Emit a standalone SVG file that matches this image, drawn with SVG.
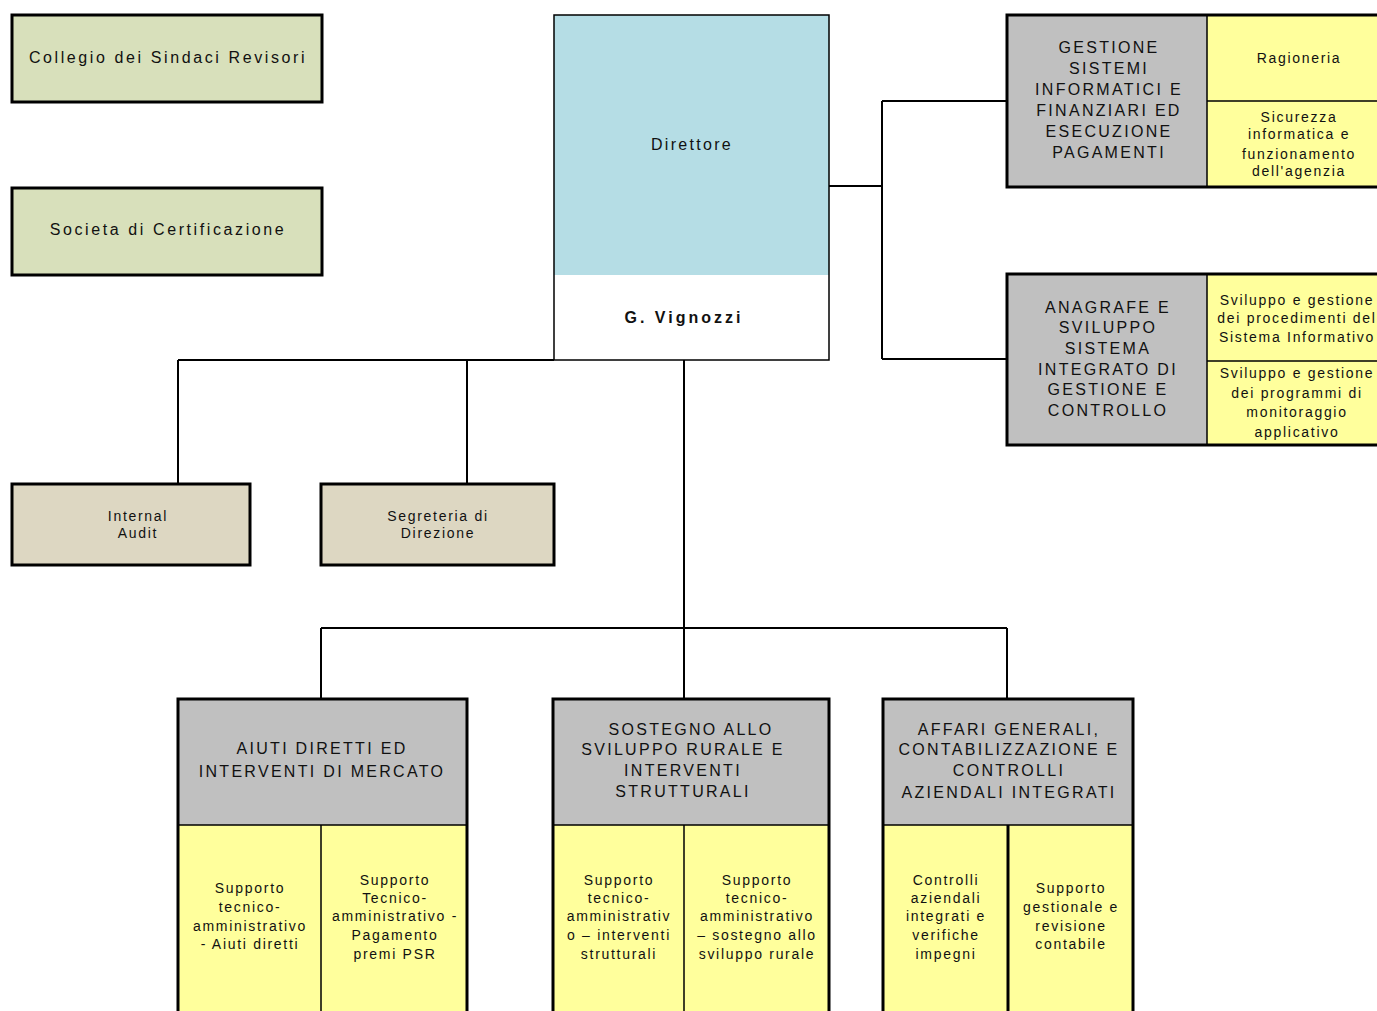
<svg xmlns="http://www.w3.org/2000/svg" width="1377" height="1011" viewBox="0 0 1377 1011">
<style>
text{font-family:"Liberation Sans",Arial,sans-serif;fill:#111;text-anchor:middle}
.h{font-size:16px;letter-spacing:2.3px}
.s{font-size:14px;letter-spacing:1.7px}
.t{font-size:16px;letter-spacing:2.6px}
.box{stroke:#000;stroke-width:3}
.thin{stroke:#000;stroke-width:1.5}
.gray{fill:#c0c0c0}
.yel{fill:#ffff9c}
.grn{fill:#d8e0bb}
.tan{fill:#ddd7c2}
.conn{fill:none;stroke:#000;stroke-width:2}
</style>
<rect width="1377" height="1011" fill="#fff"/>
<g id="connectors">
<path class="conn" d="M829 186H882M882 101V359M882 101H1007M882 359H1007"/>
<path class="conn" d="M178 360H554M178 360V484M467 360V484"/>
<path class="conn" d="M684 360V628M321 628H1007M321 628V699M684 628V699M1007 628V699"/>
</g>
<g id="collegio">
<rect class="box grn" x="12" y="15" width="310" height="87"/>
<text class="t" x="168" y="63">Collegio dei Sindaci Revisori</text>
</g>
<g id="societa">
<rect class="box grn" x="12" y="188" width="310" height="87"/>
<text class="t" x="168" y="235">Societa di Certificazione</text>
</g>
<g id="direttore">
<rect x="554" y="15" width="275" height="260" fill="#b5dde5"/>
<rect x="554" y="275" width="275" height="85" fill="#fff"/>
<rect class="thin" x="554" y="15" width="275" height="345" fill="none"/>
<text class="h" x="692" y="150">Direttore</text>
<text class="t" x="684" y="323" font-weight="bold" style="letter-spacing:3px">G. Vignozzi</text>
</g>
<g id="gestione-sistemi">
<rect class="gray" x="1007" y="15" width="200" height="172"/>
<rect class="yel" x="1207" y="15" width="172" height="172"/>
<path class="thin" d="M1207 15V187M1207 101H1377"/>
<rect class="box" x="1007" y="15" width="375" height="172" fill="none"/>
<text class="h" x="1109" y="53">GESTIONE</text>
<text class="h" x="1109" y="74">SISTEMI</text>
<text class="h" x="1109" y="95">INFORMATICI E</text>
<text class="h" x="1109" y="116">FINANZIARI ED</text>
<text class="h" x="1109" y="137">ESECUZIONE</text>
<text class="h" x="1109" y="158">PAGAMENTI</text>
<text class="s" x="1299" y="63">Ragioneria</text>
<text class="s" x="1299" y="122">Sicurezza</text>
<text class="s" x="1299" y="139">informatica e</text>
<text class="s" x="1299" y="159">funzionamento</text>
<text class="s" x="1299" y="176">dell'agenzia</text>
</g>
<g id="anagrafe">
<rect class="gray" x="1007" y="274" width="200" height="171"/>
<rect class="yel" x="1207" y="274" width="172" height="171"/>
<path class="thin" d="M1207 274V445M1207 361H1377"/>
<rect class="box" x="1007" y="274" width="375" height="171" fill="none"/>
<text class="h" x="1108" y="313">ANAGRAFE E</text>
<text class="h" x="1108" y="333">SVILUPPO</text>
<text class="h" x="1108" y="354">SISTEMA</text>
<text class="h" x="1108" y="375">INTEGRATO  DI</text>
<text class="h" x="1108" y="395">GESTIONE E</text>
<text class="h" x="1108" y="416">CONTROLLO</text>
<text class="s" x="1297" y="305">Sviluppo e gestione</text>
<text class="s" x="1297" y="323">dei procedimenti del</text>
<text class="s" x="1297" y="342">Sistema Informativo</text>
<text class="s" x="1297" y="378">Sviluppo e gestione</text>
<text class="s" x="1297" y="398">dei programmi di</text>
<text class="s" x="1297" y="417">monitoraggio</text>
<text class="s" x="1297" y="437">applicativo</text>
</g>
<g id="internal-audit">
<rect class="box tan" x="12" y="484" width="238" height="81"/>
<text class="s" x="138" y="521">Internal</text>
<text class="s" x="138" y="538">Audit</text>
</g>
<g id="segreteria">
<rect class="box tan" x="321" y="484" width="233" height="81"/>
<text class="s" x="438" y="521">Segreteria di</text>
<text class="s" x="438" y="538">Direzione</text>
</g>
<g id="aiuti-diretti">
<rect class="gray" x="178" y="699" width="289" height="126"/>
<rect class="yel" x="178" y="825" width="289" height="187"/>
<path class="thin" d="M178 825H467M321 825V1012"/>
<rect class="box" x="178" y="699" width="289" height="320" fill="none"/>
<text class="h" x="322" y="754">AIUTI DIRETTI ED</text>
<text class="h" x="322" y="777">INTERVENTI DI MERCATO</text>
<text class="s" x="250" y="893">Supporto</text>
<text class="s" x="250" y="912">tecnico-</text>
<text class="s" x="250" y="931">amministrativo</text>
<text class="s" x="250" y="949">- Aiuti diretti</text>
<text class="s" x="395" y="885">Supporto</text>
<text class="s" x="395" y="903">Tecnico-</text>
<text class="s" x="395" y="921">amministrativo -</text>
<text class="s" x="395" y="940">Pagamento</text>
<text class="s" x="395" y="959">premi PSR</text>
</g>
<g id="sostegno">
<rect class="gray" x="553" y="699" width="276" height="126"/>
<rect class="yel" x="553" y="825" width="276" height="187"/>
<path class="thin" d="M553 825H829M684 825V1012"/>
<rect class="box" x="553" y="699" width="276" height="320" fill="none"/>
<text class="h" x="691" y="735">SOSTEGNO ALLO</text>
<text class="h" x="683" y="755">SVILUPPO RURALE E</text>
<text class="h" x="683" y="776">INTERVENTI</text>
<text class="h" x="683" y="797">STRUTTURALI</text>
<text class="s" x="619" y="885">Supporto</text>
<text class="s" x="619" y="903">tecnico-</text>
<text class="s" x="619" y="921">amministrativ</text>
<text class="s" x="619" y="940">o – interventi</text>
<text class="s" x="619" y="959">strutturali</text>
<text class="s" x="757" y="885">Supporto</text>
<text class="s" x="757" y="903">tecnico-</text>
<text class="s" x="757" y="921">amministrativo</text>
<text class="s" x="757" y="940">– sostegno allo</text>
<text class="s" x="757" y="959">sviluppo rurale</text>
</g>
<g id="affari-generali">
<rect class="gray" x="883" y="699" width="250" height="126"/>
<rect class="yel" x="883" y="825" width="250" height="187"/>
<path class="thin" d="M883 825H1133"/>
<path class="box" d="M1008 825V1012"/>
<rect class="box" x="883" y="699" width="250" height="320" fill="none"/>
<text class="h" x="1009" y="735">AFFARI GENERALI,</text>
<text class="h" x="1009" y="755">CONTABILIZZAZIONE E</text>
<text class="h" x="1009" y="776">CONTROLLI</text>
<text class="h" x="1009" y="798">AZIENDALI INTEGRATI</text>
<text class="s" x="946" y="885">Controlli</text>
<text class="s" x="946" y="903">aziendali</text>
<text class="s" x="946" y="921">integrati e</text>
<text class="s" x="946" y="940">verifiche</text>
<text class="s" x="946" y="959">impegni</text>
<text class="s" x="1071" y="893">Supporto</text>
<text class="s" x="1071" y="912">gestionale e</text>
<text class="s" x="1071" y="931">revisione</text>
<text class="s" x="1071" y="949">contabile</text>
</g>
</svg>
